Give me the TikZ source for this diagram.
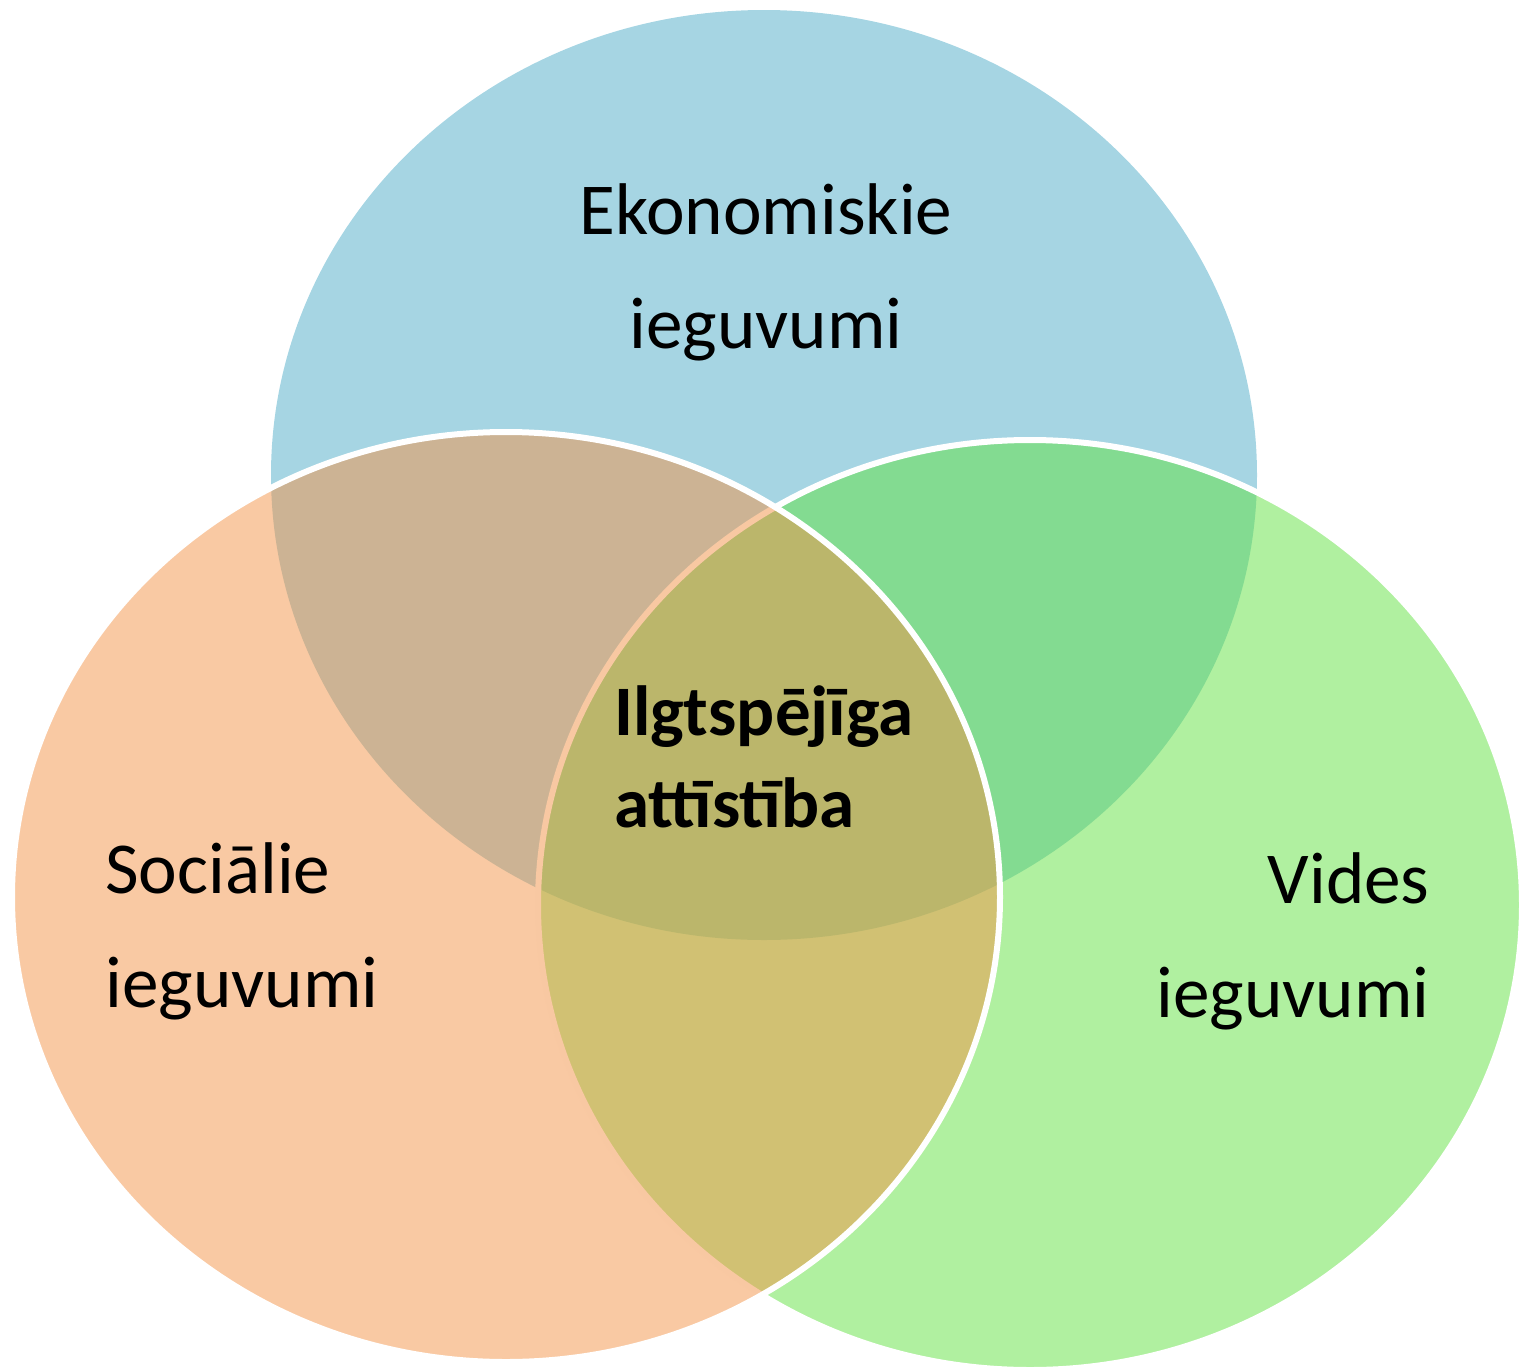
\documentclass[tikz,border=0pt]{standalone}
\usepackage{fontspec}
\setmainfont{Carlito}
\definecolor{ekoblue}{HTML}{A6D5E3}
\definecolor{videgreen}{HTML}{61E141}
\definecolor{socorange}{HTML}{F39347}
\begin{document}
\begin{tikzpicture}[x=0.5pt, y=-0.5pt]
        \useasboundingbox (0,0) rectangle (1523,1372);
        \fill[ekoblue] (764,475) ellipse [x radius=493, y radius=465];
        \filldraw[fill=videgreen, fill opacity=0.5, draw=white, line width=3pt] (1030,905) ellipse [x radius=492, y radius=465];
        \filldraw[fill=socorange, fill opacity=0.5, draw=white, line width=3pt] (506,897) ellipse [x radius=494, y radius=465];
        \node[anchor=base, align=center, inner sep=0pt, font=\fontsize{36.6}{57}\selectfont] (eko) at (766,348) {Ekonomiskie\\ieguvumi};
        \node[anchor=base west, align=left, inner sep=0pt, font=\fontsize{36.6}{57}\selectfont] (soc) at (105,1007) {Sociālie\\ieguvumi};
        \node[anchor=base east, align=right, inner sep=0pt, font=\fontsize{36.6}{57}\selectfont] (vid) at (1430,1017) {Vides\\ieguvumi};
        \node[anchor=base west, align=left, inner sep=0pt, font=\fontsize{35.5}{46}\selectfont\bfseries] (ilg) at (614,827) {Ilgtspējīga\\attīstība};
    \end{tikzpicture}
\end{document}
